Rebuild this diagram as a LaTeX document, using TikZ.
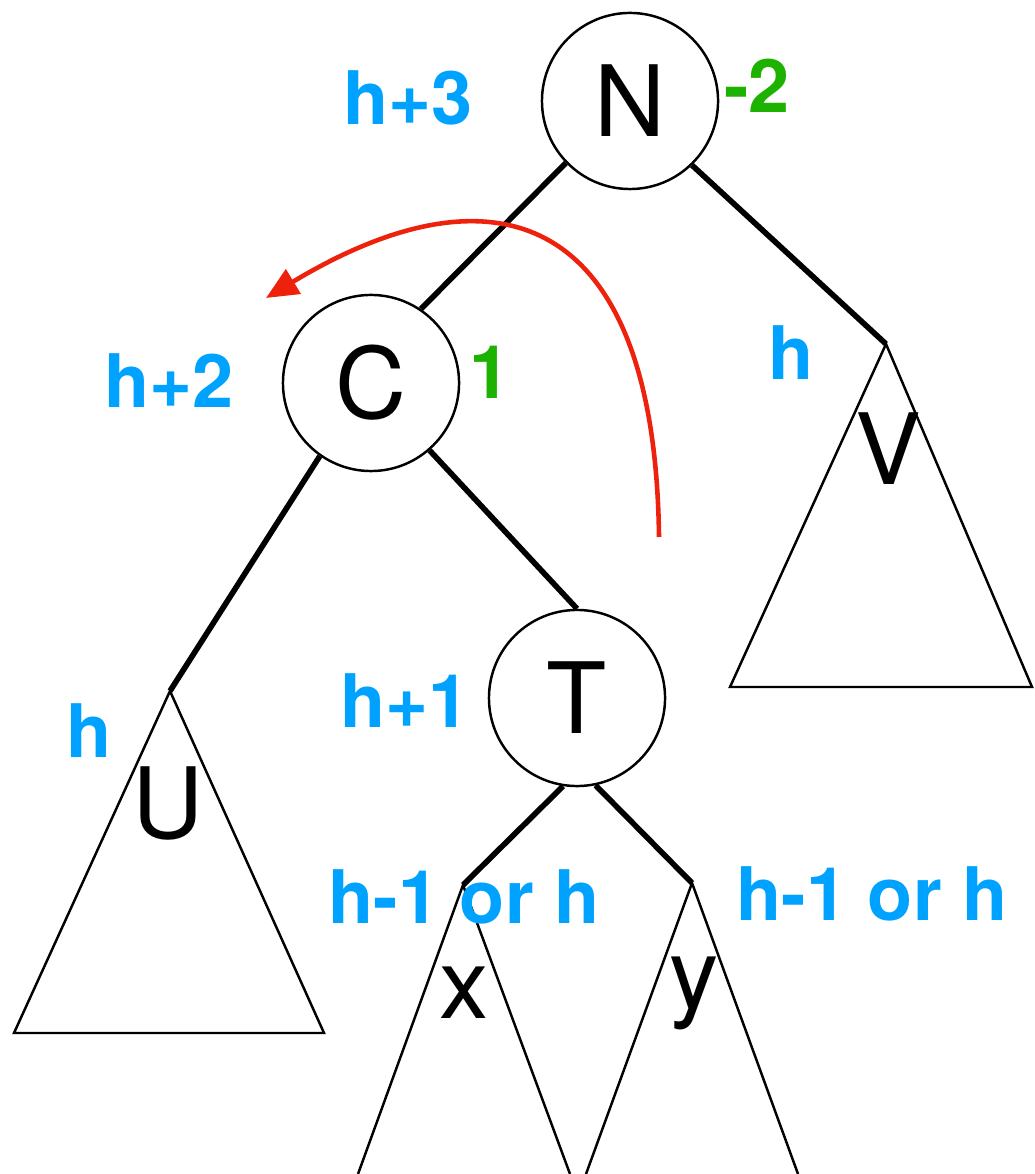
\documentclass[tikz,border=0pt]{standalone}
\usepackage{fontspec}
\setmainfont{TeX Gyre Heros}
\usetikzlibrary{arrows.meta}
\definecolor{hblue}{RGB}{0,162,255}
\definecolor{balgreen}{RGB}{29,177,0}
\definecolor{rotred}{RGB}{238,34,12}
\tikzset{
  knot/.style={
    circle,
    draw,
    line width=0.7pt,
    minimum size=1.76cm,
    inner sep=0pt,
    font=\fontsize{28}{33}\selectfont
  },
  leaf/.style={anchor=base, inner sep=0pt, font=\fontsize{28}{33}\selectfont},
  hlab/.style={anchor=base, inner sep=0pt, text=hblue, font=\bfseries\fontsize{21}{25}\selectfont},
  bal/.style={anchor=base, inner sep=0pt, text=balgreen, font=\bfseries\fontsize{21}{25}\selectfont},
  link/.style={line width=1.6pt},
  subtree/.style={line width=0.7pt},
  rotarrow/.style={-{Triangle[length=3.2mm,width=2.8mm]}, line width=1.3pt, draw=rotred, fill=none}
}

\begin{document}
\begin{tikzpicture}[x=0.01cm, y=-0.01cm]
  \useasboundingbox (0,0) rectangle (1034,1174);
  \node[knot] (N) at (630,101) {N};
  \node[knot] (C) at (371,383) {C};
  \node[knot] (T) at (577,698) {T};
  \coordinate (Vtop) at (886,344);
  \coordinate (Utop) at (170,691);
  \coordinate (xtop) at (463,885);
  \coordinate (ytop) at (692,883);
  \draw[subtree] (Vtop) -- (730,687) -- (1032,687) -- cycle;
  \draw[subtree] (Utop) -- (14,1033) -- (324,1033) -- cycle;
  \draw[subtree] (358,1174) -- (xtop) -- (570,1174);
  \draw[subtree] (586,1174) -- (ytop) -- (798,1174);
  \draw[link] (N.-136) -- (C.56);
  \draw[link] (N.-46) -- (Vtop);
  \draw[link] (C.-125) -- (Utop);
  \draw[link] (C.-49) -- (T.north);
  \draw[link] (T.-99) -- (xtop);
  \draw[link] (T.-78) -- (ytop);
  \node[leaf] (V) at (888,485) {V};
  \node[leaf] (U) at (168,838) {U};
  \node[leaf] (x) at (464,1018) {x};
  \node[leaf] (y) at (694,1008) {y};
  \node[hlab] (hN) at (408,125) {h+3};
  \node[hlab] (hC) at (169,408) {h+2};
  \node[hlab] (hT) at (405,727) {h+1};
  \node[hlab] (hV) at (791,380) {h};
  \node[hlab] (hU) at (89,757) {h};
  \node[hlab] (hx) at (464,923) {h-1 or h};
  \node[hlab] (hy) at (872,920) {h-1 or h};
  \node[bal] (bN) at (757,113) {-2};
  \node[bal] (bC) at (490,399) {1};
  \coordinate (rs) at (659,537);
  \coordinate (re) at (266,298);
  \draw[rotarrow] (rs) .. controls (655,210) and (495,160) .. (re);
\end{tikzpicture}
\end{document}
